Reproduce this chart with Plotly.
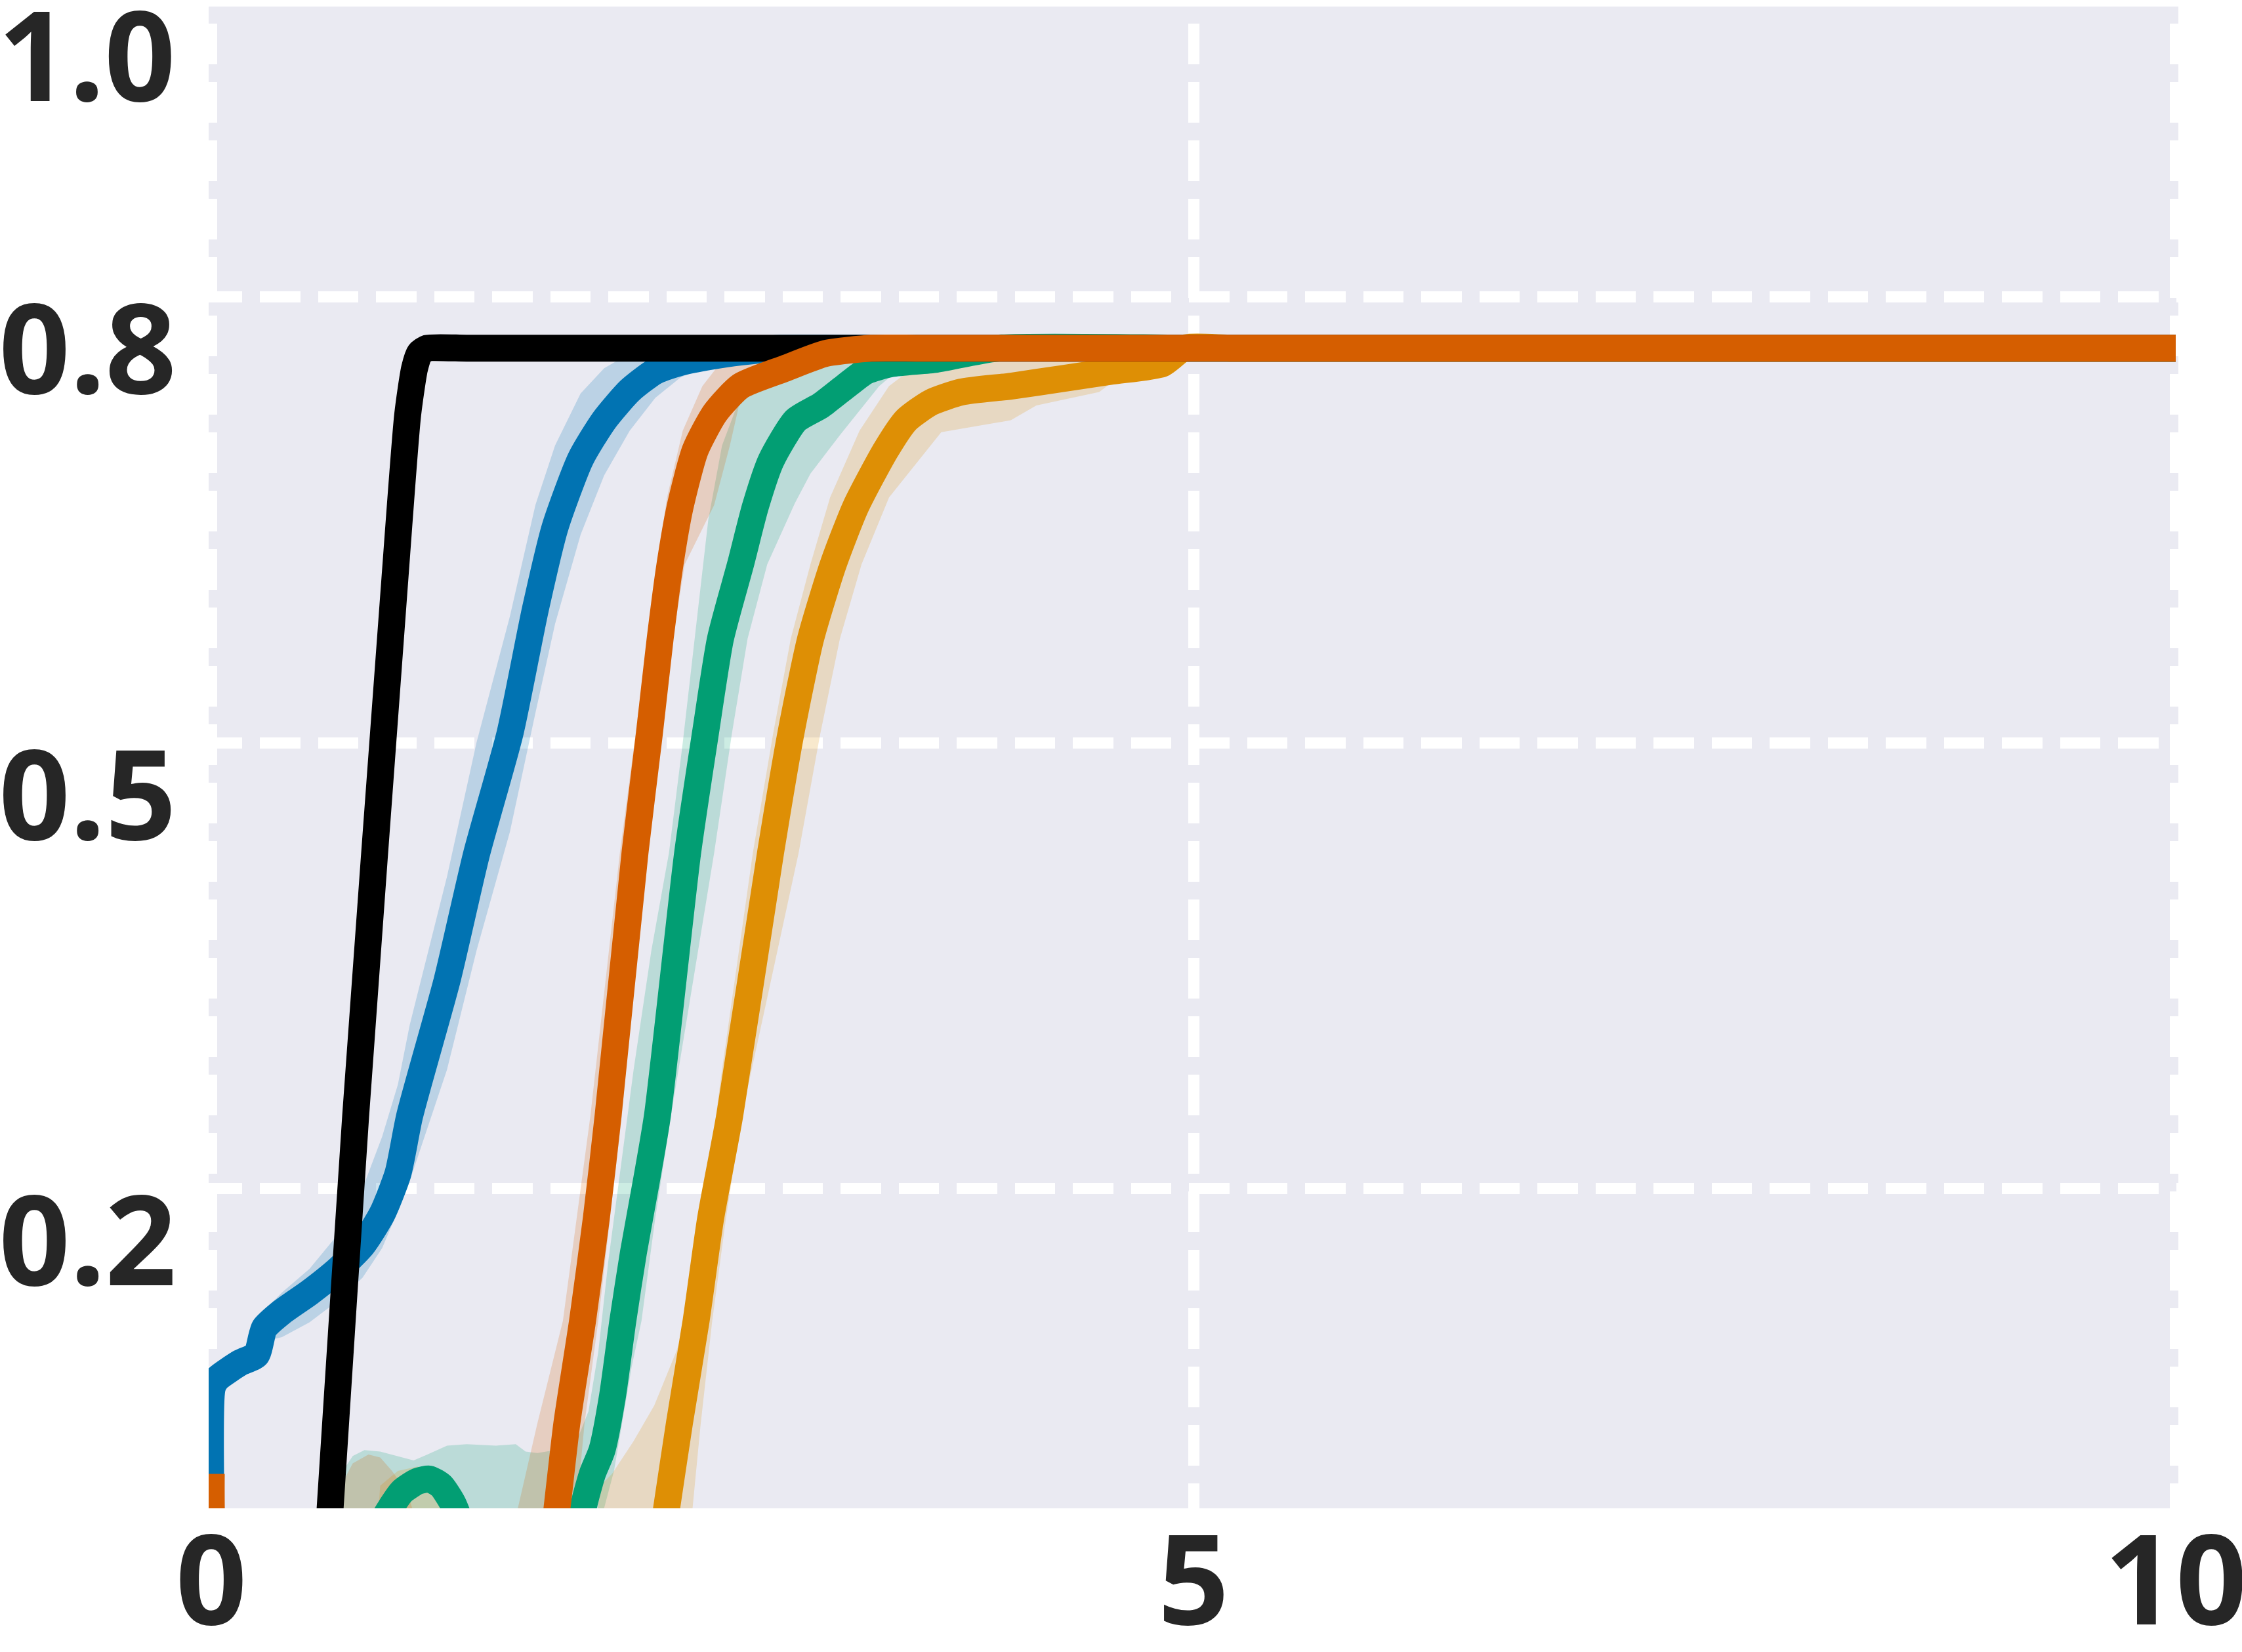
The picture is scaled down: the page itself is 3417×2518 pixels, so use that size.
import plotly.graph_objects as go

# axis ticks
x_ticks = [0, 5, 10]
x_tick_text = ["0", "5", "10"]
y_ticks = [0.2, 0.5, 0.8]
y_tick_text = ["0.2", "0.5", "0.8"]
y_top_tick = 1.0
x_range = [-0.0134, 10.0134]
y_range = [-0.0152, 0.9954]

# plateau reached by every run
plateau_x = [4.0, 5.0, 6.0, 7.0, 8.0, 9.0, 10.0]
plateau_y = [0.7655, 0.7655, 0.7655, 0.7655, 0.7655, 0.7655, 0.7655]

# mean curves (flat tails continue along plateau_x)
black_x = [0.58, 0.605, 0.735, 0.93, 1.0, 1.035, 1.06, 1.1, 1.3, 1.6, 2.0, 2.5, 3.0]
black_y = [-0.065, -0.015, 0.249, 0.602, 0.721, 0.752, 0.762, 0.7655, 0.7655, 0.7655, 0.7655, 0.7655, 0.7655]

blue_x = [0.0, 0.005, 0.03, 0.15, 0.23, 0.27, 0.36, 0.5, 0.65, 0.77, 0.87, 0.95, 1.01, 1.2, 1.35,
          1.52, 1.65, 1.75, 1.88, 2.0, 2.13, 2.26, 2.39, 2.54, 2.7, 2.9, 3.2, 3.5]
blue_y = [-0.03, 0.066, 0.072, 0.083, 0.088, 0.106, 0.117, 0.13, 0.146, 0.162, 0.183, 0.21, 0.249, 0.34, 0.425,
          0.506, 0.59, 0.645, 0.691, 0.717, 0.737, 0.75, 0.756, 0.76, 0.763, 0.7655, 0.7655, 0.7655]
blue_hi = [0.0, 0.07, 0.076, 0.089, 0.096, 0.118, 0.13, 0.146, 0.17, 0.2, 0.235, 0.27, 0.31, 0.41, 0.5,
           0.585, 0.66, 0.7, 0.735, 0.752, 0.762, 0.7655, 0.7655, 0.7655, 0.7655, 0.7655, 0.7655, 0.7655]
blue_lo = [-0.03, 0.062, 0.066, 0.078, 0.082, 0.097, 0.1, 0.11, 0.125, 0.14, 0.16, 0.185, 0.205, 0.28, 0.36,
           0.44, 0.52, 0.58, 0.64, 0.68, 0.71, 0.732, 0.746, 0.754, 0.76, 0.7655, 0.7655, 0.7655]

green_x = [0.0, 0.8, 0.88, 0.97, 1.05, 1.11, 1.17, 1.23, 1.3, 1.4, 1.84, 1.893, 1.94, 1.989, 2.042, 2.095,
           2.149, 2.212, 2.271, 2.425, 2.515, 2.592, 2.694, 2.77, 2.85, 2.975, 3.103, 3.23, 3.332, 3.46,
           3.69]
green_y = [-0.06, -0.045, -0.022, -0.004, 0.003, 0.0045, 0.0, -0.012, -0.035, -0.06, -0.06, -0.015, 0.008,
           0.024, 0.06, 0.111, 0.157, 0.203, 0.249, 0.426, 0.506, 0.57, 0.62, 0.659, 0.69, 0.717, 0.727,
           0.74, 0.75, 0.755, 0.758]
green_hi_x = [0.0, 0.6, 0.63, 0.67, 0.72, 0.78, 0.86, 0.95, 1.03, 1.1, 1.2, 1.3, 1.45, 1.55, 1.6, 1.66, 1.75,
              1.86, 1.92, 1.97, 2.02, 2.08, 2.15, 2.24, 2.33, 2.4, 2.47, 2.53, 2.6, 2.7, 2.8, 2.95, 3.1]
green_hi_y = [-0.1, -0.1, -0.015, 0.01, 0.02, 0.024, 0.023, 0.02, 0.017, 0.021, 0.027, 0.028, 0.027, 0.028,
              0.023, 0.022, 0.024, 0.03, 0.05, 0.09, 0.15, 0.21, 0.28, 0.36, 0.426, 0.5, 0.58, 0.65, 0.7,
              0.735, 0.752, 0.762, 0.7655]
green_lo_x = [0.0, 1.95, 2.0, 2.05, 2.09, 2.14, 2.19, 2.26, 2.34, 2.56, 2.65, 2.73, 2.83, 2.97, 3.05, 3.2,
              3.4, 3.49, 3.69, 3.94, 4.2]
green_lo_y = [-0.1, -0.1, -0.015, 0.01, 0.04, 0.08, 0.111, 0.18, 0.249, 0.426, 0.506, 0.57, 0.62, 0.661,
              0.681, 0.707, 0.74, 0.75, 0.755, 0.76, 0.7655]

gold_x = [0.0, 2.27, 2.318, 2.383, 2.468, 2.542, 2.639, 2.847, 2.95, 3.051, 3.166, 3.281, 3.434, 3.537,
          3.664, 3.818]
gold_y = [-0.06, -0.06, -0.015, 0.042, 0.111, 0.18, 0.249, 0.426, 0.506, 0.57, 0.62, 0.659, 0.697, 0.717,
          0.729, 0.736]
gold_tail_x = [3.818, 4.074, 4.329, 4.585, 4.84, 4.95, 5.2, 6.0, 7.0, 8.0, 9.0, 10.0]
gold_tail_y = [0.736, 0.74, 0.745, 0.75, 0.755, 0.7655, 0.7655, 0.7655, 0.7655, 0.7655, 0.7655, 0.7655]
gold_hi_x = [0.0, 0.8, 0.86, 0.95, 1.05, 1.15, 1.22, 1.3, 1.9, 1.98, 2.04, 2.15, 2.255, 2.36, 2.425, 2.5,
             2.6, 2.757, 2.86, 2.95, 3.05, 3.15, 3.3, 3.45, 3.6, 3.8, 4.0]
gold_hi_y = [-0.1, -0.1, 0.0, 0.01, 0.013, 0.008, -0.02, -0.1, -0.1, 0.0, 0.008, 0.03, 0.054, 0.088, 0.111,
             0.18, 0.28, 0.426, 0.506, 0.57, 0.62, 0.665, 0.71, 0.74, 0.755, 0.762, 0.7655]
gold_lo_x = [0.0, 2.4, 2.45, 2.49, 2.55, 2.62, 2.7, 2.99, 3.1, 3.2, 3.31, 3.45, 3.716, 4.07, 4.2, 4.52,
             4.66, 4.84, 5.1]
gold_lo_y = [-0.1, -0.1, -0.015, 0.04, 0.111, 0.18, 0.249, 0.426, 0.506, 0.57, 0.62, 0.665, 0.709, 0.717,
             0.727, 0.736, 0.75, 0.757, 0.7655]

verm_x = [0.0, 0.02, 0.1, 1.72, 1.76, 1.81, 1.89, 1.96, 2.02, 2.157, 2.23, 2.285, 2.335, 2.387, 2.464,
          2.565, 2.694, 2.923, 3.128, 3.36, 3.6]
verm_y = [0.008, -0.05, -0.06, -0.06, -0.015, 0.042, 0.111, 0.18, 0.249, 0.426, 0.506, 0.57, 0.62, 0.659,
          0.697, 0.722, 0.74, 0.752, 0.762, 0.7655, 0.7655]
verm_hi_x = [0.0, 0.03, 0.6, 0.66, 0.72, 0.8, 0.86, 0.92, 1.0, 1.1, 1.5, 1.56, 1.66, 1.79, 1.86, 1.93, 2.08,
             2.16, 2.22, 2.27, 2.32, 2.4, 2.5, 2.6, 2.75]
verm_hi_y = [0.014, -0.05, -0.05, 0.0, 0.015, 0.021, 0.019, 0.01, -0.005, -0.05, -0.05, -0.015, 0.042,
             0.111, 0.18, 0.249, 0.426, 0.506, 0.57, 0.62, 0.665, 0.71, 0.74, 0.757, 0.7655]
verm_lo_x = [0.0, 1.82, 1.86, 1.9, 1.97, 2.03, 2.09, 2.21, 2.29, 2.35, 2.41, 2.56, 2.64, 2.7, 2.78, 2.95,
             3.15]
verm_lo_y = [-0.1, -0.1, -0.015, 0.042, 0.111, 0.18, 0.249, 0.426, 0.506, 0.57, 0.62, 0.66, 0.7, 0.735,
             0.752, 0.762, 0.7655]

BLUE = "#0173B2"
GREEN = "#029E73"
GOLD = "#DE8F05"
VERM = "#D55E00"
TEXT = "#262626"
LW = 41

FONT = dict(family="Noto Sans", size=190, color=TEXT, weight="bold")

# dash phase: horizontal grid starts with a short dash,
# vertical grid starts with a gap at the top
dash_h = "51px,27px" + ",61.5px,27px" * 40
dash_v = "0px,26px" + ",62px,27px" * 30


def band(xs_hi, ys_hi, xs_lo, ys_lo, rgb):
    return go.Scatter(
        x=list(xs_hi) + list(xs_lo)[::-1],
        y=list(ys_hi) + list(ys_lo)[::-1],
        fill="toself", fillcolor="rgba(%d,%d,%d,0.2)" % rgb,
        line=dict(width=0), mode="lines", hoverinfo="skip", showlegend=False,
    )


def curve(xs, ys, color, tail_x=plateau_x, tail_y=plateau_y):
    return go.Scatter(x=list(xs) + list(tail_x), y=list(ys) + list(tail_y),
                      mode="lines", showlegend=False,
                      line=dict(color=color, width=LW, shape="spline", smoothing=0.6))


fig = go.Figure()
fig.add_trace(band(blue_x, blue_hi, blue_x, blue_lo, (1, 115, 178)))
fig.add_trace(band(green_hi_x, green_hi_y, green_lo_x, green_lo_y, (2, 158, 115)))
fig.add_trace(band(gold_hi_x, gold_hi_y, gold_lo_x, gold_lo_y, (222, 143, 5)))
fig.add_trace(band(verm_hi_x, verm_hi_y, verm_lo_x, verm_lo_y, (213, 94, 0)))

fig.add_trace(curve(blue_x, blue_y, BLUE))
fig.add_trace(curve(green_x, green_y, GREEN))
fig.add_trace(curve(gold_x, gold_y, GOLD, gold_tail_x[1:], gold_tail_y[1:]))
fig.add_trace(curve(black_x, black_y, "#000000"))
fig.add_trace(curve(verm_x, verm_y, VERM))

# the 1.0 tick sits just above the visible range, so its label is placed by hand
top_paper = (y_top_tick - y_range[0]) / (y_range[1] - y_range[0])
fig.add_annotation(text="1.0", x=0, xref="paper", xanchor="right", xshift=-48,
                   y=top_paper, yref="paper", yanchor="middle", yshift=-81,
                   showarrow=False, font=FONT)

fig.update_layout(
    width=3417, height=2518,
    margin=dict(l=318, r=97, t=10, b=219, autoexpand=False),
    paper_bgcolor="white", plot_bgcolor="#EAEAF2",
    showlegend=False,
)
fig.update_xaxes(
    range=x_range, tickvals=x_ticks, ticktext=x_tick_text,
    showgrid=True, gridcolor="white", gridwidth=17, griddash=dash_v,
    zeroline=False, showline=False, ticks="", tickfont=FONT,
    ticklabelstandoff=-14, ticklabeloverflow="allow", automargin=False,
)
fig.update_yaxes(
    range=y_range, tickvals=y_ticks, ticktext=y_tick_text,
    showgrid=True, gridcolor="white", gridwidth=17, griddash=dash_h,
    zeroline=False, showline=False, ticks="", tickfont=FONT,
    ticklabelshift=81, ticklabelstandoff=48, automargin=False,
)

fig.write_html("out.html", config={"displayModeBar": False},
               post_script="document.body.style.margin='0';")
